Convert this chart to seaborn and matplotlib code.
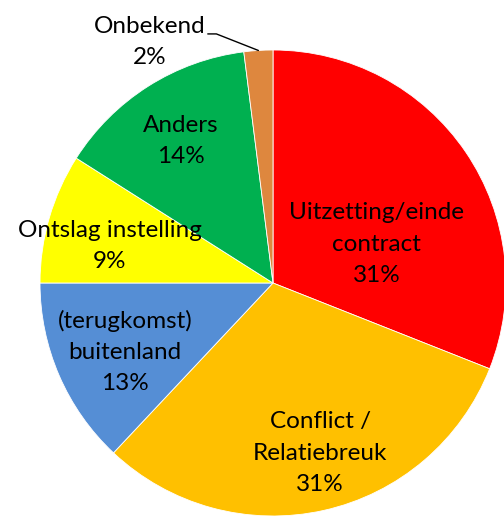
import matplotlib
matplotlib.use("Agg")
import matplotlib.pyplot as plt
import seaborn as sns
import numpy as np

# data
labels = ["Uitzetting/einde\ncontract", "Conflict /\nRelatiebreuk", "(terugkomst)\nbuitenland",
          "Ontslag instelling", "Anders", "Onbekend"]
percentages = [31, 31, 13, 9, 14, 2]
colors = ["#FF0000", "#FFC000", "#558ED5", "#FFFF00", "#00B050", "#DE873E"]

# label centres (axes data units, pie radius = 1)
label_pos = [(0.446, 0.167), (0.202, -0.730), (-0.635, -0.296),
             (-0.700, 0.159), (-0.395, 0.609), (-0.528, 1.034)]

sns.set_theme(style="white")
plt.rcParams["font.family"] = ["Lato", "DejaVu Sans"]

fig = plt.figure(figsize=(5.04, 5.16), dpi=100)
ax = fig.add_axes([0, 0, 1, 1])

wedges, _ = ax.pie(percentages, colors=sns.color_palette(colors), startangle=90,
                   counterclock=False, radius=1,
                   wedgeprops=dict(edgecolor="white", linewidth=0.6))

for lab, pct, (x, y) in zip(labels, percentages, label_pos):
    ax.text(x, y, f"{lab}\n{pct}%", ha="center", va="center",
            fontsize=17.5, linespacing=1.6, color="black")

# leader line for the small slice
w = wedges[-1]
mid = np.deg2rad((w.theta1 + w.theta2) / 2)
px, py = np.cos(mid), np.sin(mid)
lx, ly = label_pos[-1]
ax.plot([lx + 0.248, lx + 0.285, px], [ly + 0.035, ly + 0.035, py],
        color="black", lw=1)

ax.set_aspect("equal", adjustable="datalim")
ax.set_xlim(-273 / 233, (504 - 273) / 233)
ax.set_ylim(-(516 - 283) / 233, 283 / 233)
ax.axis("off")

fig.savefig("out.png", dpi=100)
